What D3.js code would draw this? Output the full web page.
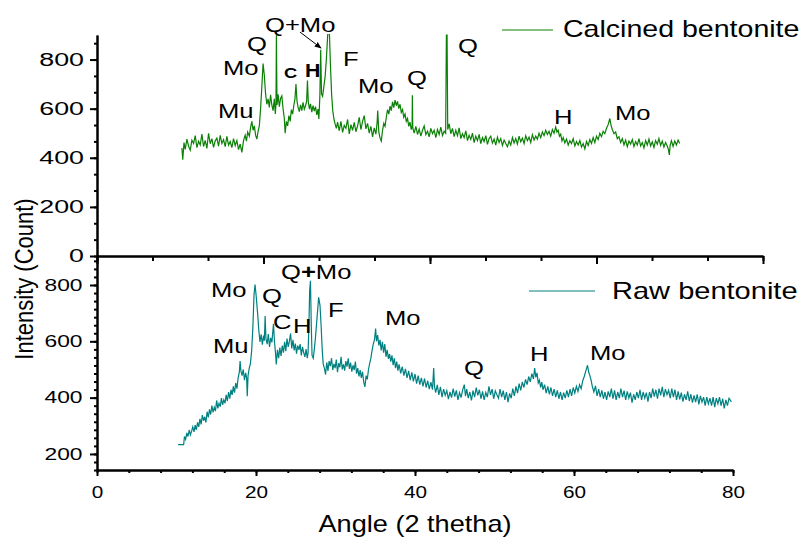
<!DOCTYPE html>
<html>
<head>
<meta charset="utf-8">
<script src="https://cdn.jsdelivr.net/npm/d3@7/dist/d3.min.js"></script>
<style>
  html, body { margin: 0; padding: 0; background: #fff; }
  svg { display: block; font-family: "Liberation Sans", Arial, sans-serif; }
</style>
</head>
<body>
<div id="chart"></div>
<script>
// XRD patterns: [angle (2 theta), intensity (count)]
const calcinedData = [
  [10.2,440],[10.3,392],[10.45,462],[10.6,434],[10.8,476],[11.0,447],[11.2,431],[11.4,472],[11.6,458],[11.8,490],
  [12.0,441],[12.2,467],[12.4,452],[12.6,496],[12.8,446],[13.0,471],[13.2,438],[13.4,500],[13.6,457],[13.8,478],
  [14.0,442],[14.2,469],[14.4,480],[14.6,447],[14.8,491],[15.0,458],[15.2,474],[15.4,445],[15.6,487],[15.8,452],
  [16.0,466],[16.2,441],[16.4,478],[16.6,450],[16.8,470],[17.0,433],[17.2,456],[17.4,422],[17.6,470],[17.8,492],
  [17.95,468],[18.1,505],[18.3,488],[18.45,524],[18.6,548],[18.75,512],[18.9,530],[19.05,492],[19.2,476],[19.35,508],
  [19.5,530],[19.65,600],[19.8,690],[19.95,784],[20.1,735],[20.25,660],[20.4,618],[20.55,640],[20.7,605],[20.85,656],
  [21.0,615],[21.15,592],[21.3,640],[21.42,578],[21.5,620],[21.55,899],[21.62,615],[21.75,658],[21.9,608],[22.05,642],
  [22.2,652],[22.35,600],[22.5,560],[22.6,500],[22.75,548],[22.9,530],[23.05,572],[23.2,548],[23.35,596],[23.5,578],
  [23.65,615],[23.78,640],[23.9,700],[24.02,632],[24.15,606],[24.3,588],[24.45,615],[24.6,592],[24.75,626],[24.9,598],
  [25.05,612],[25.18,630],[25.28,715],[25.38,628],[25.52,598],[25.65,620],[25.8,586],[25.95,612],[26.1,590],[26.25,608],
  [26.4,575],[26.55,598],[26.65,558],[26.77,650],[26.87,840],[26.97,660],[27.1,650],[27.25,690],[27.4,730],[27.55,800],
  [27.72,905],[27.92,905],[28.05,770],[28.18,660],[28.32,592],[28.45,560],[28.6,538],[28.75,520],[28.9,545],[29.1,510],
  [29.3,548],[29.5,503],[29.7,532],[29.9,520],[30.1,556],[30.3,497],[30.5,535],[30.7,512],[30.9,544],[31.1,506],
  [31.3,530],[31.5,565],[31.7,515],[31.9,548],[32.1,572],[32.3,518],[32.5,540],[32.7,500],[32.9,528],[33.1,485],
  [33.3,522],[33.5,496],[33.65,545],[33.72,592],[33.85,505],[34.0,480],[34.15,468],[34.3,512],[34.45,540],[34.6,528],
  [34.75,565],[34.9,596],[35.05,578],[35.2,610],[35.35,592],[35.5,628],[35.65,604],[35.8,635],[35.95,612],[36.1,630],
  [36.25,600],[36.4,618],[36.55,585],[36.7,596],[36.85,565],[37.0,578],[37.15,548],[37.3,560],[37.45,528],[37.6,545],
  [37.75,515],[37.85,530],[37.88,655],[37.93,522],[38.1,500],[38.3,528],[38.5,495],[38.7,517],[38.9,488],[39.1,512],
  [39.3,530],[39.5,494],[39.7,508],[39.9,485],[40.1,520],[40.3,498],[40.5,512],[40.7,482],[40.9,515],[41.1,495],
  [41.3,525],[41.5,490],[41.7,508],[41.88,500],[41.97,900],[42.05,900],[42.13,515],[42.3,538],[42.5,498],[42.7,520],
  [42.9,486],[43.1,512],[43.3,490],[43.5,522],[43.7,478],[43.9,498],[44.1,482],[44.3,510],[44.5,470],[44.7,492],
  [44.9,475],[45.1,500],[45.3,462],[45.5,488],[45.7,470],[45.9,495],[46.1,458],[46.3,482],[46.5,466],[46.7,490],
  [46.9,455],[47.1,478],[47.3,488],[47.5,460],[47.7,476],[47.9,452],[48.1,484],[48.3,462],[48.5,478],[48.7,450],
  [48.9,472],[49.1,458],[49.3,445],[49.5,468],[49.7,452],[49.9,482],[50.1,460],[50.3,478],[50.5,456],[50.7,488],
  [50.9,465],[51.1,480],[51.3,458],[51.5,490],[51.7,470],[51.9,484],[52.1,462],[52.3,494],[52.5,472],[52.7,488],
  [52.9,476],[53.1,500],[53.3,482],[53.5,505],[53.7,490],[53.9,512],[54.1,495],[54.3,508],[54.5,488],[54.7,515],
  [54.9,500],[55.1,525],[55.25,505],[55.4,512],[55.55,488],[55.7,496],[55.85,468],[56.0,482],[56.2,460],[56.4,476],
  [56.6,452],[56.8,470],[57.0,458],[57.2,478],[57.4,448],[57.6,466],[57.8,452],[58.0,470],[58.2,444],[58.4,458],
  [58.6,436],[58.8,466],[59.0,450],[59.2,474],[59.4,458],[59.6,482],[59.8,462],[60.0,488],[60.2,474],[60.4,500],
  [60.6,486],[60.8,508],[61.0,498],[61.2,520],[61.4,535],[61.6,560],[61.75,532],[61.9,515],[62.1,498],[62.3,505],
  [62.5,478],[62.7,486],[62.9,462],[63.1,478],[63.3,452],[63.5,472],[63.7,445],[63.9,468],[64.1,456],[64.3,474],
  [64.5,446],[64.7,466],[64.9,452],[65.1,478],[65.3,448],[65.5,462],[65.7,440],[65.9,470],[66.1,452],[66.3,476],
  [66.5,448],[66.7,465],[66.9,442],[67.1,470],[67.3,455],[67.5,478],[67.7,450],[67.9,468],[68.1,444],[68.3,462],
  [68.5,448],[68.65,432],[68.75,412],[68.85,452],[69.0,470],[69.2,446],[69.4,468],[69.6,452],[69.8,472],[70.0,458]
];

const rawData = [
  [10.2,233],[10.9,233],[11.0,262],[11.15,252],[11.3,275],[11.45,262],[11.6,285],[11.75,268],[11.9,281],[12.05,296],
  [12.2,278],[12.35,302],[12.5,286],[12.65,312],[12.8,296],[12.95,325],[13.1,305],[13.25,338],[13.4,318],[13.55,332],
  [13.7,312],[13.85,350],[14.0,330],[14.15,358],[14.3,340],[14.45,372],[14.6,348],[14.75,366],[14.9,352],[15.05,390],
  [15.2,362],[15.35,380],[15.5,368],[15.65,398],[15.8,374],[15.95,392],[16.1,380],[16.25,410],[16.4,388],[16.55,420],
  [16.7,396],[16.85,428],[17.0,410],[17.15,440],[17.3,418],[17.45,452],[17.6,432],[17.75,470],[17.9,490],[18.0,530],
  [18.1,495],[18.25,478],[18.4,500],[18.55,462],[18.7,488],[18.82,470],[18.9,405],[19.0,478],[19.15,505],[19.3,522],
  [19.45,565],[19.6,645],[19.75,765],[19.88,802],[20.02,762],[20.2,700],[20.35,640],[20.5,598],[20.65,625],[20.8,588],
  [20.95,620],[21.05,602],[21.15,690],[21.25,610],[21.4,590],[21.55,626],[21.7,580],[21.85,612],[22.0,596],[22.1,630],
  [22.2,662],[22.32,600],[22.45,560],[22.55,518],[22.7,570],[22.85,540],[23.0,578],[23.15,548],[23.3,585],[23.45,560],
  [23.6,598],[23.75,565],[23.9,610],[24.05,580],[24.2,600],[24.35,628],[24.5,575],[24.65,605],[24.8,568],[24.95,592],
  [25.1,556],[25.25,585],[25.4,570],[25.55,590],[25.7,550],[25.85,580],[26.0,560],[26.15,545],[26.3,572],[26.45,540],
  [26.55,560],[26.65,650],[26.75,780],[26.85,815],[26.95,660],[27.05,550],[27.2,540],[27.35,575],[27.5,620],[27.7,692],
  [27.88,756],[28.05,728],[28.2,650],[28.32,575],[28.45,520],[28.6,505],[28.75,482],[28.9,525],[29.05,495],[29.2,530],
  [29.35,512],[29.5,540],[29.65,498],[29.8,520],[29.95,505],[30.1,535],[30.25,490],[30.4,522],[30.55,508],[30.7,545],
  [30.85,500],[31.0,518],[31.15,496],[31.3,530],[31.45,510],[31.6,540],[31.75,502],[31.9,524],[32.05,492],[32.2,515],
  [32.35,498],[32.5,528],[32.65,485],[32.8,505],[32.95,475],[33.1,498],[33.25,470],[33.4,492],[33.55,455],[33.7,438],
  [33.85,478],[34.0,465],[34.15,500],[34.3,522],[34.45,540],[34.6,568],[34.75,590],[34.9,605],[35.05,645],[35.15,600],
  [35.3,622],[35.45,585],[35.6,605],[35.75,568],[35.9,598],[36.05,560],[36.2,590],[36.35,545],[36.5,570],[36.65,538],
  [36.8,555],[36.95,528],[37.1,550],[37.25,515],[37.4,540],[37.55,505],[37.7,528],[37.85,496],[38.0,518],[38.2,486],
  [38.4,510],[38.6,478],[38.8,502],[39.0,470],[39.2,495],[39.4,462],[39.6,490],[39.8,458],[40.0,484],[40.2,450],
  [40.4,478],[40.6,446],[40.8,470],[41.0,440],[41.2,468],[41.4,436],[41.6,460],[41.8,430],[42.0,455],[42.2,428],
  [42.35,505],[42.45,440],[42.6,418],[42.8,445],[43.0,410],[43.2,438],[43.4,402],[43.6,430],[43.8,408],[44.0,425],
  [44.2,395],[44.4,420],[44.6,400],[44.8,432],[45.0,404],[45.2,426],[45.4,392],[45.6,418],[45.8,400],[46.0,428],
  [46.2,446],[46.35,405],[46.5,430],[46.7,398],[46.9,420],[47.1,390],[47.3,425],[47.5,402],[47.7,436],[47.9,408],
  [48.1,428],[48.3,396],[48.5,422],[48.7,392],[48.9,418],[49.1,402],[49.3,440],[49.5,410],[49.7,430],[49.9,396],
  [50.1,424],[50.3,410],[50.5,398],[50.7,430],[50.9,402],[51.1,425],[51.3,392],[51.5,420],[51.7,384],[51.9,415],
  [52.1,398],[52.3,432],[52.5,406],[52.7,440],[52.9,416],[53.1,450],[53.3,426],[53.5,456],[53.7,436],[53.9,465],
  [54.1,446],[54.3,475],[54.5,456],[54.7,485],[54.9,466],[55.05,505],[55.2,472],[55.35,488],[55.5,452],[55.65,462],
  [55.8,436],[55.95,455],[56.1,428],[56.3,446],[56.5,416],[56.7,440],[56.9,412],[57.1,436],[57.3,406],[57.5,430],
  [57.7,402],[57.9,426],[58.1,396],[58.3,420],[58.5,392],[58.7,418],[58.9,398],[59.1,426],[59.3,402],[59.5,430],
  [59.7,406],[59.9,436],[60.1,416],[60.3,440],[60.5,422],[60.7,446],[60.9,432],[61.1,460],[61.3,476],[61.5,496],
  [61.7,515],[61.85,490],[62.0,478],[62.15,462],[62.3,440],[62.5,420],[62.7,442],[62.9,406],[63.1,430],[63.3,402],
  [63.5,426],[63.7,396],[63.9,420],[64.1,392],[64.3,422],[64.5,402],[64.7,432],[64.9,396],[65.1,426],[65.3,392],
  [65.5,420],[65.7,398],[65.9,432],[66.1,402],[66.3,425],[66.5,392],[66.7,422],[66.9,398],[67.1,418],[67.3,382],
  [67.5,412],[67.7,392],[67.9,420],[68.1,398],[68.3,428],[68.5,392],[68.7,420],[68.9,398],[69.1,418],[69.3,386],
  [69.5,420],[69.7,398],[69.9,432],[70.1,404],[70.3,428],[70.5,396],[70.7,432],[70.9,408],[71.1,438],[71.3,402],
  [71.5,430],[71.7,410],[71.9,426],[72.1,398],[72.3,432],[72.5,402],[72.7,428],[72.9,392],[73.1,422],[73.3,394],
  [73.5,418],[73.7,386],[73.9,412],[74.1,392],[74.3,422],[74.5,388],[74.7,412],[74.9,382],[75.1,408],[75.3,384],
  [75.5,412],[75.7,376],[75.9,406],[76.1,384],[76.3,402],[76.5,372],[76.7,402],[76.9,378],[77.1,398],[77.3,372],
  [77.5,402],[77.7,366],[77.9,398],[78.1,378],[78.3,402],[78.5,372],[78.7,396],[78.9,362],[79.1,392],[79.3,372],
  [79.5,398],[79.8,385]
];

const angleTicks = [0, 20, 40, 60, 80];
const calcinedCountTicks = [0, 200, 400, 600, 800];
const rawCountTicks = [200, 400, 600, 800];

// peak labels: [text, angle, count] (left edge / baseline of the label)
const calcinedPeaks = [
  ["Q+Mo", 20.18, 912], ["Q", 18.02, 835], ["Mo", 15.14, 737], ["F", 29.55, 774],
  ["Mo", 31.35, 664], ["Mu", 14.53, 562], ["Q", 37.24, 696], ["Q", 43.36, 827],
  ["H", 54.89, 538], ["Mo", 62.22, 554]
];
const calcinedBoldPeaks = [["C", 22.46, 725, 15], ["H", 24.98, 729, 17.5]];
const rawPeaks = [
  ["Mo", 14.34, 757], ["Q", 20.75, 736], ["C", 22.14, 644], ["H", 24.65, 630],
  ["F", 29.06, 686], ["Mu", 14.59, 559], ["Mo", 36.23, 658], ["Q", 46.16, 480],
  ["H", 54.47, 530], ["Mo", 62.01, 534]
];

const width = 802;
const height = 538;

const svg = d3.select("#chart")
  .append("svg")
  .attr("width", width)
  .attr("height", height);

const topBox = { left: 97, right: 763, top: 35, bottom: 256 };
const botBox = { left: 97, right: 733, top: 256, bottom: 470 };

const xTop = d3.scaleLinear().domain([0, 80]).range([topBox.left, topBox.right]);
const yTop = d3.scaleLinear().domain([0, 900]).range([topBox.bottom, topBox.top]);
const xBot = d3.scaleLinear().domain([0, 80]).range([botBox.left, botBox.right]);
const yBot = d3.scaleLinear().domain([143, 903]).range([botBox.bottom, botBox.top]);

const green = "#0a8005";
const teal = "#008080";

function styleAxis(g) {
  g.selectAll("path, line").attr("stroke", "#000").attr("stroke-width", 2);
  g.selectAll("text").attr("fill", "#000");
}

// text stretched horizontally like the original figure
function stretchText(g, x, y, str, size, sx, anchor) {
  return g.append("text")
    .attr("transform", `translate(${x},${y}) scale(${sx},1)`)
    .attr("text-anchor", anchor || "start")
    .attr("font-size", size)
    .attr("fill", "#000")
    .text(str);
}

// clip paths + arrow marker
const defs = svg.append("defs");
defs.append("clipPath").attr("id", "clipTop").append("rect")
  .attr("x", topBox.left).attr("y", topBox.top - 1)
  .attr("width", topBox.right - topBox.left).attr("height", topBox.bottom - topBox.top + 1);
defs.append("clipPath").attr("id", "clipBot").append("rect")
  .attr("x", botBox.left).attr("y", botBox.top)
  .attr("width", botBox.right - botBox.left).attr("height", botBox.bottom - botBox.top);
defs.append("marker")
  .attr("id", "arrow").attr("viewBox", "0 0 10 10")
  .attr("refX", 9).attr("refY", 5)
  .attr("markerWidth", 7).attr("markerHeight", 7)
  .attr("orient", "auto")
  .append("path").attr("d", "M0,1 L10,5 L0,9 Z").attr("fill", "#000");

// ---- data lines
const lineTop = d3.line().x(d => xTop(d[0])).y(d => yTop(d[1]));
const lineBot = d3.line().x(d => xBot(d[0])).y(d => yBot(d[1]));

svg.append("path")
  .datum(rawData)
  .attr("clip-path", "url(#clipBot)")
  .attr("fill", "none")
  .attr("stroke", teal)
  .attr("stroke-width", 1.2)
  .attr("d", lineBot);

svg.append("path")
  .datum(calcinedData)
  .attr("clip-path", "url(#clipTop)")
  .attr("fill", "none")
  .attr("stroke", green)
  .attr("stroke-width", 1.2)
  .attr("d", lineTop);

// ---- top panel axes
const topXMinor = svg.append("g").attr("transform", `translate(0,${topBox.bottom})`)
  .call(d3.axisBottom(xTop).tickValues(d3.range(0, 80.01, 20 / 3)).tickSize(5).tickSizeOuter(0).tickFormat(""));
styleAxis(topXMinor);
const topXMajor = svg.append("g").attr("transform", `translate(0,${topBox.bottom})`)
  .call(d3.axisBottom(xTop).tickValues(angleTicks).tickSize(8).tickSizeOuter(0).tickFormat(""));
styleAxis(topXMajor);

const topYMinor = svg.append("g").attr("transform", `translate(${topBox.left},0)`)
  .call(d3.axisLeft(yTop).tickValues(d3.range(0, 900, 200 / 3)).tickSize(3).tickSizeOuter(0).tickFormat(""));
styleAxis(topYMinor);
const topYMajor = svg.append("g").attr("transform", `translate(${topBox.left},0)`)
  .call(d3.axisLeft(yTop).tickValues(calcinedCountTicks).tickSize(7).tickSizeOuter(0));
styleAxis(topYMajor);
topYMajor.selectAll("text")
  .attr("font-size", 18.5)
  .attr("font-family", "Liberation Sans, Arial, sans-serif")
  .attr("transform", "scale(1.45,1)")
  .attr("x", -13 / 1.45);

// ---- bottom panel axes
const botXMinor = svg.append("g").attr("transform", `translate(0,${botBox.bottom})`)
  .call(d3.axisBottom(xBot).tickValues(d3.range(0, 80.01, 4)).tickSize(3).tickSizeOuter(0).tickFormat(""));
styleAxis(botXMinor);
const botXMajor = svg.append("g").attr("transform", `translate(0,${botBox.bottom})`)
  .call(d3.axisBottom(xBot).tickValues(angleTicks).tickSize(6).tickSizeOuter(0));
styleAxis(botXMajor);
botXMajor.selectAll("text")
  .attr("font-size", 17)
  .attr("font-family", "Liberation Sans, Arial, sans-serif")
  .attr("transform", "scale(1.22,1)")
  .attr("y", 28)
  .attr("dy", 0);

const botYMinor = svg.append("g").attr("transform", `translate(${botBox.left},0)`)
  .call(d3.axisLeft(yBot).tickValues(d3.range(200 - 2 * 200 / 7, 903, 200 / 7)).tickSize(3).tickSizeOuter(0).tickFormat(""));
styleAxis(botYMinor);
const botYMajor = svg.append("g").attr("transform", `translate(${botBox.left},0)`)
  .call(d3.axisLeft(yBot).tickValues(rawCountTicks).tickSize(7).tickSizeOuter(0));
styleAxis(botYMajor);
botYMajor.selectAll("text")
  .attr("font-size", 16.3)
  .attr("font-family", "Liberation Sans, Arial, sans-serif")
  .attr("transform", "scale(1.4,1)")
  .attr("x", -14.5 / 1.4);

// ---- axis titles
svg.append("text")
  .attr("transform", "translate(33,279) rotate(-90) scale(1,1.2)")
  .attr("text-anchor", "middle")
  .attr("font-size", 22)
  .attr("fill", "#000")
  .text("Intensity (Count)");

stretchText(svg, 415, 532, "Angle (2 thetha)", 23, 1.18, "middle");

// ---- peak labels
const labels = svg.append("g");
calcinedPeaks.forEach(p => stretchText(labels, xTop(p[1]), yTop(p[2]), p[0], 21, 1.22));
calcinedBoldPeaks.forEach(p => stretchText(labels, xTop(p[1]), yTop(p[2]), p[0], p[3], 1.22).attr("font-weight", "bold"));
rawPeaks.forEach(p => stretchText(labels, xBot(p[1]), yBot(p[2]), p[0], 21, 1.22));

const qmo = labels.append("text")
  .attr("transform", `translate(${xBot(23.14)},${yBot(821)}) scale(1.22,1)`)
  .attr("font-size", 21)
  .attr("fill", "#000");
qmo.append("tspan").text("Q");
qmo.append("tspan").attr("font-weight", "bold").text("+");
qmo.append("tspan").text("Mo");

// arrow pointing at the Q+Mo reflection
labels.append("line")
  .attr("x1", xTop(24.38)).attr("y1", yTop(912))
  .attr("x2", xTop(26.91)).attr("y2", yTop(847))
  .attr("stroke", "#000")
  .attr("stroke-width", 1)
  .attr("marker-end", "url(#arrow)");

// ---- legends
svg.append("line")
  .attr("x1", 502).attr("x2", 553).attr("y1", 30).attr("y2", 30)
  .attr("stroke", green).attr("stroke-width", 1.2);
stretchText(svg, 563, 37, "Calcined bentonite", 24, 1.19);

svg.append("line")
  .attr("x1", 529).attr("x2", 595).attr("y1", 291).attr("y2", 291)
  .attr("stroke", teal).attr("stroke-width", 1.2);
stretchText(svg, 612, 299, "Raw bentonite", 24, 1.21);
</script>
</body>
</html>
